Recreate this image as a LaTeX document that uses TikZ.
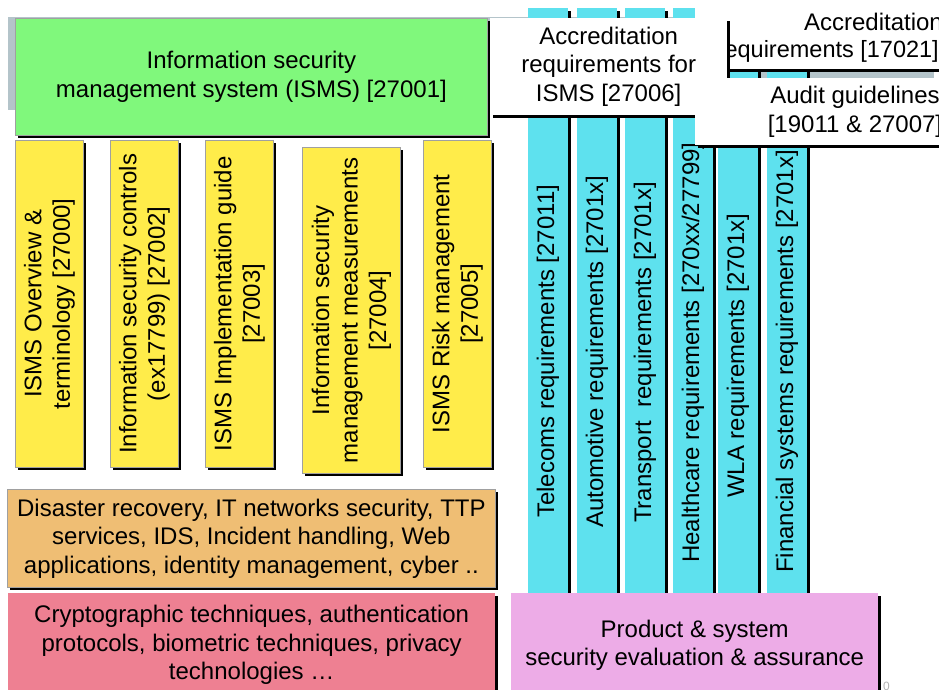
\documentclass[tikz,border=0pt]{standalone}
\usepackage{fontspec}
\setmainfont{Liberation Sans}
\usepackage{xcolor}
\definecolor{ismsgreen}{HTML}{80F87C}
\definecolor{guideyellow}{HTML}{FFEC4A}
\definecolor{sectorcyan}{HTML}{5EE1EE}
\definecolor{topicorange}{HTML}{EFBE74}
\definecolor{cryptored}{HTML}{EE8092}
\definecolor{evalpink}{HTML}{EDACE7}
\definecolor{bandgray}{HTML}{B4C4CA}
\definecolor{edgegray}{HTML}{A0A0A0}
\usepackage{tikz}
\usetikzlibrary{shadows}

\begin{document}
\begin{tikzpicture}[
  x=1pt, y=-1pt,
  font=\fontsize{24}{28.5}\selectfont,
  every node/.style={align=center, inner sep=0pt},
  hardshadow/.style={drop shadow={shadow xshift=3pt, shadow yshift=-3pt,
    fill=black, opacity=1}},
  stdbox/.style={hardshadow, draw=edgegray, line width=0.8pt, anchor=north west},
  plainbox/.style={hardshadow, fill=white, anchor=north west},
  colbox/.style={hardshadow, fill=sectorcyan, minimum width=40pt,
    minimum height=585pt, anchor=north west}
]
  \useasboundingbox (0,0) rectangle (939,690);
  \fill[bandgray] (8,17) rectangle (934,110);

  % sector requirement columns
  \foreach \cx/\cy/\lab [count=\i] in {
      528/518/{Telecoms requirements [27011]},
      577/528/{Automotive requirements [2701x]},
      625/523/{Transport~ requirements [2701x]},
      673/563/{Healthcare requirements [270xx/27799]},
      718/498/{WLA requirements [2701x]},
      767/573/{Financial systems requirements [2701x]}}
  {
    \node[colbox] (col\i) at (\cx,8) {};
    \node[rotate=90, anchor=west] (collab\i) at (\cx+20,\cy) {\lab};
  }

  % accreditation and audit boxes
  \node[plainbox, minimum width=250pt, minimum height=69pt] (accr) at (695,0) {};
  \node[anchor=base east] (accrtop) at (943,31) {Accreditation};
  \node[anchor=base east, font=\fontsize{23.5}{28}\selectfont]
    (accrbot) at (939,58) {requirements [17021]};
  \node[plainbox, minimum width=237pt, minimum height=97pt] (accrisms) at (490,18)
    {Accreditation\\requirements for\\ISMS [27006]};
  \node[plainbox, minimum width=250pt, minimum height=67pt] (audit) at (695,78) {};
  \node (audittext) at (855,112) {Audit guidelines\\{}[19011 \& 27007]};

  % ISMS and guideline boxes
  \node[stdbox, fill=ismsgreen, minimum width=472pt, minimum height=117pt]
    (isms) at (15,18) {Information security\\management system (ISMS) [27001]};
  \foreach \bx/\by/\bw/\bh/\lab [count=\i] in {
      15/140/68pt/327pt/{ISMS Overview \&\\terminology [27000]},
      110/140/68pt/327pt/{Information security controls\\(ex17799) [27002]},
      205/140/68pt/327pt/{ISMS Implementation guide\\{}[27003]},
      302/147/98pt/326pt/{Information security\\management measurements\\{}[27004]},
      423/140/68pt/327pt/{ISMS Risk management\\{}[27005]}}
  {
    \node[stdbox, fill=guideyellow, minimum width=\bw, minimum height=\bh]
      (guide\i) at (\bx,\by) {};
    \node[rotate=90] (guidelab\i) at (guide\i.center) {\lab};
  }

  % techniques and evaluation
  \node[stdbox, fill=topicorange, minimum width=488pt, minimum height=98pt]
    (topics) at (7,489) {Disaster recovery, IT networks security, TTP\\services,
    IDS, Incident handling, Web\\applications, identity management, cyber ..};
  \node[hardshadow, fill=cryptored, minimum width=487pt, minimum height=104pt,
    anchor=north west] (crypto) at (8,593) {Cryptographic techniques,
    authentication\\protocols, biometric techniques, privacy\\technologies …};
  \node[hardshadow, fill=evalpink, minimum width=367pt, minimum height=104pt,
    anchor=north west] (evaluation) at (511,593)
    {Product \& system\\security evaluation \& assurance};

  \node[text=gray!60, font=\fontsize{12}{14}\selectfont, anchor=north west]
    (slideno) at (883,682) {0};
\end{tikzpicture}
\end{document}
